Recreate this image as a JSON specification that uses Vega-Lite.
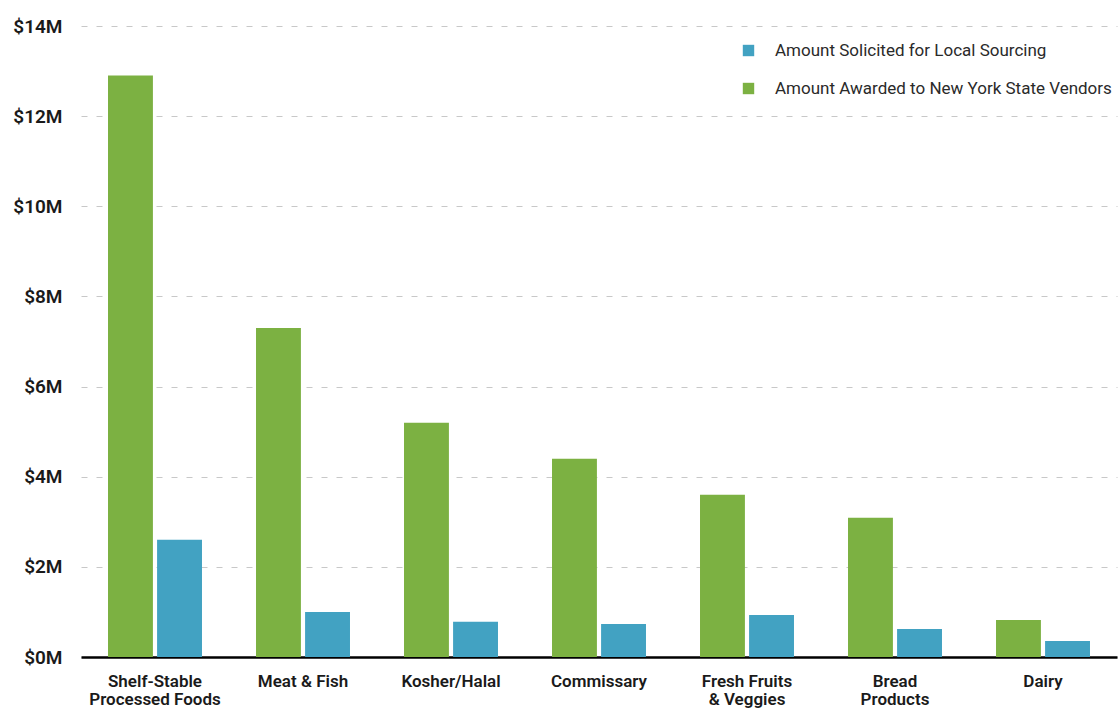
{
  "$schema": "https://vega.github.io/schema/vega-lite/v6.json",
  "autosize": "none",
  "width": 1036,
  "height": 631,
  "padding": {"left": 81, "top": 26, "right": 2, "bottom": 52},
  "background": "white",
  "data": {
    "values": [
      {"category": "Shelf-Stable Processed Foods", "measure": "Amount Awarded to New York State Vendors", "amount": 12900000},
      {"category": "Shelf-Stable Processed Foods", "measure": "Amount Solicited for Local Sourcing", "amount": 2600000},
      {"category": "Meat & Fish", "measure": "Amount Awarded to New York State Vendors", "amount": 7300000},
      {"category": "Meat & Fish", "measure": "Amount Solicited for Local Sourcing", "amount": 1000000},
      {"category": "Kosher/Halal", "measure": "Amount Awarded to New York State Vendors", "amount": 5200000},
      {"category": "Kosher/Halal", "measure": "Amount Solicited for Local Sourcing", "amount": 780000},
      {"category": "Commissary", "measure": "Amount Awarded to New York State Vendors", "amount": 4400000},
      {"category": "Commissary", "measure": "Amount Solicited for Local Sourcing", "amount": 730000},
      {"category": "Fresh Fruits & Veggies", "measure": "Amount Awarded to New York State Vendors", "amount": 3600000},
      {"category": "Fresh Fruits & Veggies", "measure": "Amount Solicited for Local Sourcing", "amount": 930000},
      {"category": "Bread Products", "measure": "Amount Awarded to New York State Vendors", "amount": 3090000},
      {"category": "Bread Products", "measure": "Amount Solicited for Local Sourcing", "amount": 620000},
      {"category": "Dairy", "measure": "Amount Awarded to New York State Vendors", "amount": 820000},
      {"category": "Dairy", "measure": "Amount Solicited for Local Sourcing", "amount": 355000}
    ]
  },
  "mark": {"type": "bar"},
  "encoding": {
    "x": {
      "field": "category",
      "type": "nominal",
      "sort": null,
      "title": null,
      "scale": {"paddingInner": 0.365, "paddingOuter": 0.1825},
      "axis": {
        "labelAngle": 0,
        "labelFont": "Roboto",
        "labelFontWeight": 600,
        "labelFontSize": 17,
        "labelColor": "#1a1a1a",
        "labelPadding": 16,
        "labelLineHeight": 18,
        "ticks": false,
        "domainColor": "#000000",
        "domainWidth": 2.5,
        "labelExpr": "datum.value == 'Shelf-Stable Processed Foods' ? ['Shelf-Stable', 'Processed Foods'] : datum.value == 'Fresh Fruits & Veggies' ? ['Fresh Fruits', '& Veggies'] : datum.value == 'Bread Products' ? ['Bread', 'Products'] : datum.value"
      }
    },
    "xOffset": {
      "field": "measure",
      "type": "nominal",
      "sort": ["Amount Awarded to New York State Vendors", "Amount Solicited for Local Sourcing"],
      "scale": {"paddingInner": 0.085}
    },
    "y": {
      "field": "amount",
      "type": "quantitative",
      "title": null,
      "scale": {"domain": [0, 14000000]},
      "axis": {
        "values": [0, 2000000, 4000000, 6000000, 8000000, 10000000, 12000000, 14000000],
        "labelExpr": "'$' + (datum.value / 1000000) + 'M'",
        "labelFont": "Roboto",
        "labelFontWeight": 600,
        "labelFontSize": 19,
        "labelColor": "#1a1a1a",
        "labelPadding": 19,
        "ticks": false,
        "domain": false,
        "grid": true,
        "gridColor": "#c8c8c8",
        "gridDash": [6, 9],
        "gridWidth": 1
      }
    },
    "color": {
      "field": "measure",
      "type": "nominal",
      "title": null,
      "scale": {
        "domain": ["Amount Solicited for Local Sourcing", "Amount Awarded to New York State Vendors"],
        "range": ["#42a2c2", "#7cb142"]
      },
      "legend": {
        "orient": "none",
        "legendX": 659,
        "legendY": 16,
        "symbolType": "square",
        "symbolSize": 130,
        "symbolStrokeWidth": 0,
        "labelFont": "Roboto",
        "labelFontSize": 17,
        "labelColor": "#2a2a2a",
        "labelOffset": 18,
        "labelLimit": 400,
        "rowPadding": 20
      }
    }
  },
  "config": {
    "view": {"stroke": null},
    "axis": {"gridOpacity": 1}
  }
}
